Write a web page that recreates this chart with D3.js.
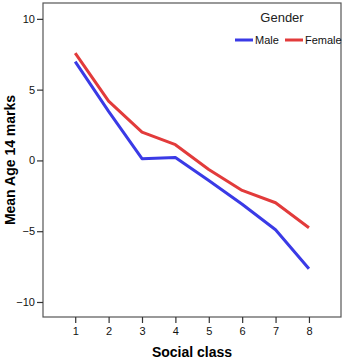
<!DOCTYPE html>
<html>
<head>
<meta charset="utf-8">
<script src="https://cdn.jsdelivr.net/npm/d3@7"></script>
<style>
  body { margin: 0; background: #fff; }
  svg text { font-family: Arial, "Liberation Sans", sans-serif; }
</style>
</head>
<body>
<svg width="346" height="364"></svg>
<script>
// data
const classes = [1, 2, 3, 4, 5, 6, 7, 8];
const male = [6.98, 3.46, 0.12, 0.21, -1.42, -3.1, -4.9, -7.65];
const female = [7.58, 4.19, 2.0, 1.11, -0.64, -2.12, -2.99, -4.76];
const yTicks = [-10, -5, 0, 5, 10];
const seriesNames = ["Male", "Female"];
const seriesColors = ["#3a3ae6", "#e23b3b"];

const svg = d3.select("svg");
const pLeft = 43, pTop = 3, pRight = 341, pBottom = 317;

const x = d3.scaleLinear().domain([0.035, 8.96]).range([pLeft, pRight]);
const y = d3.scaleLinear().domain([-11.06, 11.12]).range([pBottom, pTop]);

// frame
svg.append("rect")
    .attr("x", pLeft).attr("y", pTop)
    .attr("width", pRight - pLeft).attr("height", pBottom - pTop)
    .attr("fill", "none").attr("stroke", "#555").attr("stroke-width", 1.2);

// axes
const xAxis = svg.append("g")
    .attr("transform", "translate(0," + pBottom + ")")
    .call(d3.axisBottom(x).tickValues(classes).tickSize(6).tickPadding(4));
const yAxis = svg.append("g")
    .attr("transform", "translate(" + pLeft + ",0)")
    .call(d3.axisLeft(y).tickValues(yTicks).tickSize(6).tickPadding(2));

[xAxis, yAxis].forEach(function (g) {
    g.select(".domain").remove();
    g.selectAll(".tick line").attr("stroke", "#333").attr("stroke-width", 1.2);
    g.selectAll(".tick text").attr("fill", "#111").style("font-size", "11px")
        .style("font-family", "Arial, 'Liberation Sans', sans-serif");
});

// lines
const line = d3.line()
    .x(function (d, i) { return x(classes[i]); })
    .y(function (d) { return y(d); });

[male, female].forEach(function (s, i) {
    svg.append("path")
        .datum(s)
        .attr("fill", "none")
        .attr("stroke", seriesColors[i])
        .attr("stroke-width", 3)
        .attr("stroke-linejoin", "round")
        .attr("d", line);
});

// axis titles
svg.append("text")
    .attr("x", (pLeft + pRight) / 2).attr("y", 357)
    .attr("text-anchor", "middle")
    .style("font-size", "14px").style("font-weight", "bold")
    .text("Social class");

svg.append("text")
    .attr("transform", "translate(15," + ((pTop + pBottom) / 2) + ") rotate(-90)")
    .attr("text-anchor", "middle")
    .style("font-size", "14px").style("font-weight", "bold")
    .text("Mean Age 14 marks");

// legend
svg.append("text")
    .attr("x", 282).attr("y", 22)
    .attr("text-anchor", "middle")
    .style("font-size", "13px").attr("fill", "#222")
    .text("Gender");

const legX = [235, 285];
seriesNames.forEach(function (n, i) {
    svg.append("line")
        .attr("x1", legX[i]).attr("x2", legX[i] + 18)
        .attr("y1", 40).attr("y2", 40)
        .attr("stroke", seriesColors[i]).attr("stroke-width", 3);
    svg.append("text")
        .attr("x", legX[i] + 20).attr("y", 44)
        .style("font-size", "11px").attr("fill", "#111")
        .text(n);
});
</script>
</body>
</html>
